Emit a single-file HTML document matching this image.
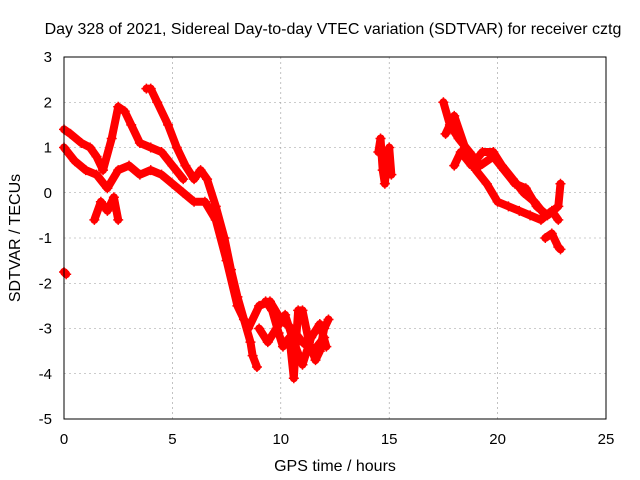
<!DOCTYPE html>
<html><head><meta charset="utf-8"><style>
body{margin:0;background:#fff}
svg{display:block;font-family:"Liberation Sans",sans-serif;font-size:15px}
</style></head><body>
<svg id="chart" width="640" height="480" viewBox="0 0 640 480">
<text x="333" y="34" text-anchor="middle" font-size="16">Day 328 of 2021, Sidereal Day-to-day VTEC variation (SDTVAR) for receiver cztg</text>
<text x="335" y="471" text-anchor="middle" font-size="16">GPS time / hours</text>
<text transform="translate(20,238) rotate(-90)" text-anchor="middle" font-size="16">SDTVAR / TECUs</text>
<g id="grid"></g><g id="ticks"></g><g id="marks"></g>
<rect x="64" y="57" width="542" height="362" fill="none" stroke="#000"/>
</svg>
<script>
const xTicks=[0,5,10,15,20,25];
const yTicks=[3,2,1,0,-1,-2,-3,-4,-5];
const trackA=[[0,1.4],[0.3,1.3],[0.8,1.1],[1.2,1.0],[1.5,0.8],[1.8,0.5],[2.2,1.2],[2.5,1.9],[2.8,1.8],[3.1,1.5],[3.5,1.1],[4.0,1.0],[4.5,0.9],[5.0,0.6],[5.5,0.3]];
const trackB=[[3.8,2.3],[4.0,2.3],[4.3,2.0],[4.8,1.5],[5.2,1.0],[5.6,0.6],[6.0,0.3],[6.3,0.5],[6.6,0.3],[7.0,-0.3],[7.4,-1.0],[7.7,-1.7],[8.0,-2.3],[8.3,-2.8],[8.6,-3.3],[8.7,-3.6],[8.9,-3.85]];
const trackC=[[0,1.0],[0.5,0.7],[1.0,0.5],[1.5,0.4],[2.0,0.1],[2.5,0.5],[3.0,0.6],[3.5,0.4],[4.0,0.5],[4.5,0.4],[5.0,0.2],[5.5,0.0],[6.0,-0.2],[6.5,-0.2],[7.0,-0.6],[7.5,-1.5],[8.0,-2.5],[8.5,-3.0],[9.0,-2.5],[9.5,-2.4],[10,-2.8],[10.5,-3.0],[11,-3.3],[11.5,-3.5],[12,-3.2]];
const trackD=[[1.4,-0.6],[1.7,-0.2],[2.0,-0.4],[2.3,-0.1],[2.5,-0.6]];
const trackOut=[[0,-1.75],[0.1,-1.8]];
const trackE=[[9.3,-2.4],[9.6,-2.6],[9.9,-3.1],[10.1,-3.4],[10.4,-3.2],[10.6,-4.1],[10.7,-3.3],[10.8,-2.6],[11.0,-2.6],[11.3,-3.3],[11.6,-3.7],[11.8,-3.5],[12.0,-3.0],[12.2,-2.8]];
const trackE2=[[9.0,-3.0],[9.4,-3.3],[9.8,-3.0],[10.2,-2.7],[10.6,-3.3],[11.0,-3.8],[11.4,-3.2],[11.8,-2.9],[12.1,-3.4]];
const trackS=[[14.5,0.9],[14.6,1.2],[14.7,0.5],[14.8,0.2],[14.9,0.8],[15.0,1.0],[15.1,0.4]];
const trackF=[[17.5,2.0],[17.8,1.5],[18.2,1.2],[18.7,0.9],[19.2,0.6],[19.8,0.8],[20.3,0.5],[20.8,0.2],[21.3,0.1],[21.8,-0.3],[22.3,-0.5],[22.8,-0.3],[22.9,0.2]];
const trackG=[[17.6,1.3],[18.0,1.7],[18.5,1.0],[19.0,0.5],[19.5,0.2],[20.0,-0.2],[20.5,-0.3],[21.0,-0.4],[21.5,-0.5],[22.0,-0.6],[22.5,-0.4],[22.8,-0.6]];
const trackH=[[18.0,0.6],[18.3,0.9],[18.8,0.6],[19.3,0.9],[19.8,0.9],[20.2,0.6],[20.7,0.3],[21.2,0.0],[21.7,-0.2],[22.2,-0.5]];
const trackI=[[22.2,-1.0],[22.5,-0.9],[22.8,-1.2],[22.9,-1.25]];
const tracks=[trackA,trackB,trackC,trackD,trackOut,trackE,trackE2,trackS,trackF,trackG,trackH,trackI];
const NS='http://www.w3.org/2000/svg';
const X=v=>64+v*542/25, Y=v=>57+(3-v)*362/8;
function mk(t,a,p){const e=document.createElementNS(NS,t);for(const k in a)e.setAttribute(k,a[k]);p.appendChild(e);return e;}
const grid=document.getElementById('grid'),ticks=document.getElementById('ticks'),marks=document.getElementById('marks');
xTicks.forEach(t=>{const x=X(t);
 if(t>0&&t<25){const g=mk('line',{x1:x,x2:x,y1:57,y2:419,stroke:'#999','stroke-dasharray':'2,3','stroke-width':0.6},grid);
 
 }
 const l=mk('text',{x:x,y:444,'text-anchor':'middle'},ticks);l.textContent=t;
 
 });
yTicks.forEach(t=>{const y=Y(t);
 if(t>-5&&t<3){const g=mk('line',{x1:64,x2:606,y1:y,y2:y,stroke:'#999','stroke-dasharray':'2,3','stroke-width':0.6},grid);
 
 }
 const l=mk('text',{x:52,y:y+5,'text-anchor':'end'},ticks);l.textContent=t;
 
 });
tracks.forEach(tr=>{
 const pl=mk('polyline',{points:tr.map(p=>X(p[0])+','+Y(p[1])).join(' '),fill:'none',stroke:'#f00','stroke-width':8,'stroke-linejoin':'round','stroke-linecap':'round'},marks);
 
 
 tr.forEach(p=>{const x=X(p[0]),y=Y(p[1]);
  const m=mk('path',{d:`M${x-5},${y}h10M${x},${y-5}v10`,stroke:'#f00','stroke-width':1.5},marks);
  
  });
});
</script>
</body></html>
